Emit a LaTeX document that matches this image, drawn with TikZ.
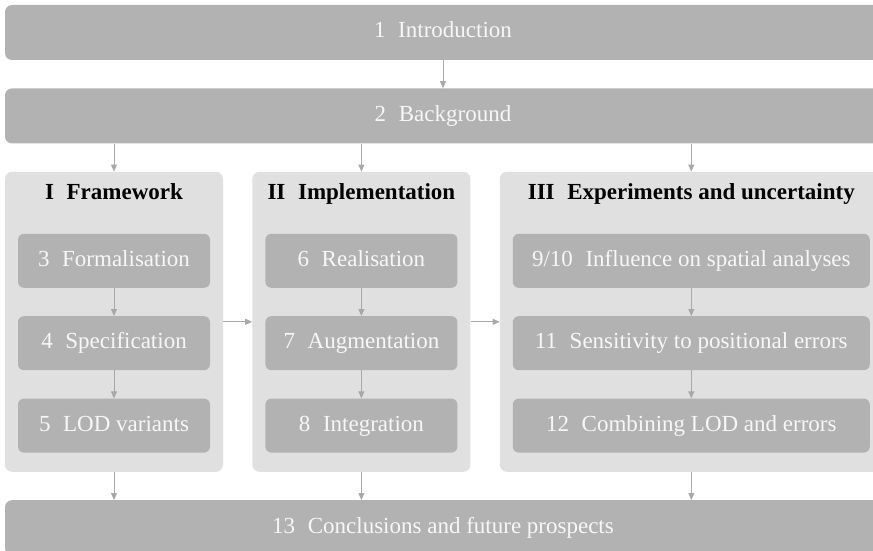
\documentclass[tikz,border=0pt]{standalone}
\usepackage{fontspec}
\setmainfont{Liberation Serif}
\usetikzlibrary{positioning, arrows.meta}
\definecolor{boxgray}{gray}{0.70}
\definecolor{panelgray}{gray}{0.88}
\definecolor{linkgray}{gray}{0.66}
\definecolor{labelwhite}{gray}{0.97}
\newcommand{\chap}[2]{#1\hspace{0.55em}#2}
\tikzset{
>={Triangle[length=7pt, width=6pt]}, % small filled arrow heads
node distance=28pt, % gap between stacked boxes
link/.style={->, color=linkgray, line width=0.8pt}, % connectors
label font/.style={font=\fontsize{23}{27}\selectfont, text height=15.5pt, text depth=4.5pt},
wide/.style={fill=boxgray, rounded corners=7pt, minimum width=876pt, minimum height=55pt, text=labelwhite, label font}, % full width boxes
part/.style={fill=panelgray, rounded corners=7pt, minimum height=300pt}, % the three parts
parttitle/.style={inner sep=0pt, font=\bfseries\fontsize{23}{27}\selectfont, text height=15.5pt, text depth=4.5pt},
chapter/.style={fill=boxgray, rounded corners=6pt, minimum height=54pt, text=labelwhite, label font}, % chapters inside a part
}

\begin{document}
\begin{tikzpicture}
            \useasboundingbox (0pt,0pt) rectangle (873pt,-551pt);
            \node[wide] (intro) at (443pt,-32.5pt) {\chap{1}{Introduction}};
            \node[wide, below=of intro] (background) {\chap{2}{Background}};
            % parts
            \node[part, minimum width=218pt, anchor=north west] (partI) at ([yshift=-28pt]background.south west) {};
            \node[part, minimum width=218pt, right=29pt of partI] (partII) {};
            \node[part, minimum width=383pt, right=29pt of partII] (partIII) {};
            \node[parttitle, below=12pt of partI.north] (titleI) {\chap{I}{Framework}};
            \node[parttitle, below=12pt of partII.north] (titleII) {\chap{II}{Implementation}};
            \node[parttitle, below=12pt of partIII.north] (titleIII) {\chap{III}{Experiments and uncertainty}};
            % chapters
            \node[chapter, minimum width=192pt, below=62pt of partI.north] (ch3) {\chap{3}{Formalisation}};
            \node[chapter, minimum width=192pt, below=of ch3] (ch4) {\chap{4}{Specification}};
            \node[chapter, minimum width=192pt, below=of ch4] (ch5) {\chap{5}{LOD variants}};
            \node[chapter, minimum width=192pt, below=62pt of partII.north] (ch6) {\chap{6}{Realisation}};
            \node[chapter, minimum width=192pt, below=of ch6] (ch7) {\chap{7}{Augmentation}};
            \node[chapter, minimum width=192pt, below=of ch7] (ch8) {\chap{8}{Integration}};
            \node[chapter, minimum width=357pt, below=62pt of partIII.north] (ch9) {\chap{9/10}{Influence on spatial analyses}};
            \node[chapter, minimum width=357pt, below=of ch9] (ch11) {\chap{11}{Sensitivity to positional errors}};
            \node[chapter, minimum width=357pt, below=of ch11] (ch12) {\chap{12}{Combining LOD and errors}};
            \node[wide, below=of partII.south -| intro] (conclusions) {\chap{13}{Conclusions and future prospects}};
            % free ends on the conclusions box
            \coordinate (inI) at (partI.south |- conclusions.north);
            \coordinate (inII) at (partII.south |- conclusions.north);
            \coordinate (inIII) at (partIII.south |- conclusions.north);
            \path[link]
                (intro.south) edge (background.north)
                (background.south -| partI.north) edge (partI.north)
                (background.south -| partII.north) edge (partII.north)
                (background.south -| partIII.north) edge (partIII.north)
                (partI.east) edge (partII.west)
                (partII.east) edge (partIII.west)
                (ch3.south) edge (ch4.north)
                (ch4.south) edge (ch5.north)
                (ch6.south) edge (ch7.north)
                (ch7.south) edge (ch8.north)
                (ch9.south) edge (ch11.north)
                (ch11.south) edge (ch12.north)
                (partI.south) edge (inI)
                (partII.south) edge (inII)
                (partIII.south) edge (inIII)
                ;
\end{tikzpicture}
\end{document}
